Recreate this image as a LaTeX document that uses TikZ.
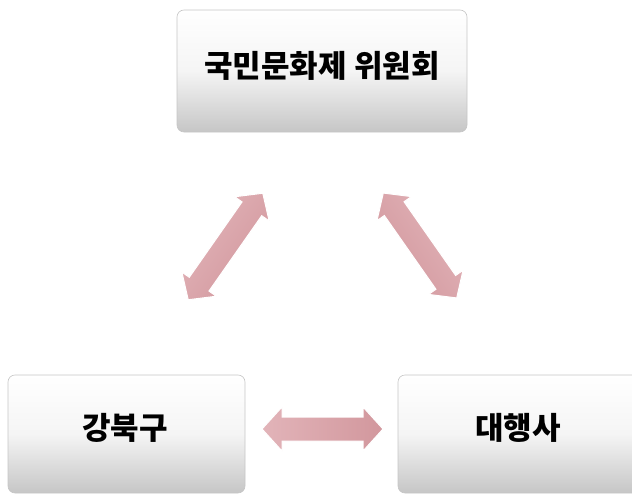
\documentclass[tikz,border=0pt]{standalone}
\usepackage{fontspec}
\newfontfamily\krb{Noto Sans CJK KR Black}
\usetikzlibrary{calc}
\definecolor{arrowA}{HTML}{E2B4B9}
\definecolor{arrowB}{HTML}{D2979D}
\definecolor{boxbot}{HTML}{C6C6C6}
\tikzset{
  box/.style={draw=gray!45, line width=0.6pt, rounded corners=7pt,
    top color=white, bottom color=boxbot, middle color=gray!8},
  lbl/.style={font=\krb\fontsize{31}{36}\selectfont, text=black, inner sep=0pt},
  dblarrow/.style={draw=white, line width=1pt, line join=miter, left color=arrowA, right color=arrowB},
}
% #1 half length, #2 shaft half width, #3 head half width, #4 head length
\newcommand{\dblarrowpath}[4]{(-#1,0) -- (-#1+#4,-#3) -- (-#1+#4,-#2) -- (#1-#4,-#2) -- (#1-#4,-#3) -- (#1,0) -- (#1-#4,#3) -- (#1-#4,#2) -- (-#1+#4,#2) -- (-#1+#4,#3) -- cycle}
\begin{document}
\begin{tikzpicture}[x=1pt,y=-1pt]
\useasboundingbox (0,0) rectangle (632,495);
\begin{scope}
\clip (0,0) rectangle (632,495);
\path[box] (177,10) rectangle (467,132);
\path[box] (8,375) rectangle (245,493);
\path[box] (398,375) rectangle (642,493);
\end{scope}
\node[lbl] (top) at (322,66) {국민문화제 위원회};
\node[lbl] (left) at (125,428) {강북구};
\node[lbl] (right) at (518,428) {대행사};
\coordinate (la) at (188,300);
\coordinate (lb) at (263,193);
\coordinate (ra) at (383,193);
\coordinate (rb) at (457,298);
\coordinate (ha) at (262,429);
\coordinate (hb) at (383,429);
\coordinate (lm) at ($(la)!0.5!(lb)$);
\coordinate (rm) at ($(ra)!0.5!(rb)$);
\coordinate (hm) at ($(ha)!0.5!(hb)$);
\begin{scope}[shift={(lm)}, rotate=55]
\path[dblarrow, shading angle=55] \dblarrowpath{65}{12}{21}{19};
\end{scope}
\begin{scope}[shift={(rm)}, rotate=-55]
\path[dblarrow, shading angle=-55] \dblarrowpath{64}{12}{21}{19};
\end{scope}
\begin{scope}[shift={(hm)}]
\path[dblarrow] \dblarrowpath{60.5}{12}{22}{20};
\end{scope}
\end{tikzpicture}
\end{document}
